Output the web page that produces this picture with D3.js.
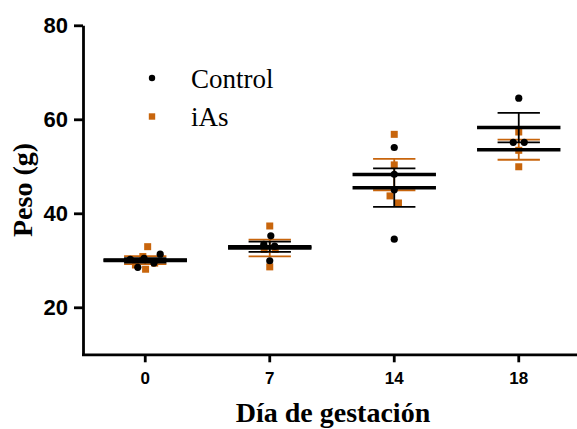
<!DOCTYPE html>
<html>
<head>
<meta charset="utf-8">
<script src="https://cdn.jsdelivr.net/npm/d3@7"></script>
<style>
  body { margin: 0; background: #fff; }
  .tick text { font-family: "Liberation Sans", Arial, sans-serif; font-weight: bold; fill: #000; }
</style>
</head>
<body>
<svg id="chart" width="577" height="429"></svg>
<script>
// categories and values
var days = ["0", "7", "14", "18"];
var controlValues = [
  [31.3, 30.4, 28.5, 29.4, 30.2],
  [35.2, 29.9, 33.4, 33.0],
  [54.0, 48.3, 45.0, 34.5],
  [64.5, 55.1, 55.1]
];
var iAsValues = [
  [32.9, 28.1, 29.0, 29.4, 30.8],
  [37.3, 28.6, 32.3, 32.3],
  [56.8, 50.3, 43.7, 42.2],
  [57.3, 53.4, 49.9]
];
var yTicks = [20, 40, 60, 80];
var seriesNames = ["Control", "iAs"];

var orange = "#c8650c";
var svg = d3.select("#chart");

var x = d3.scaleBand().domain(days).range([83, 581]).padding(0);
var y = d3.scaleLinear().domain([10, 80]).range([354.3, 25.3]);

// mean and sem per group
function stats(vals) {
  var m = d3.mean(vals);
  var sem = d3.deviation(vals) / Math.sqrt(vals.length);
  return { mean: m, sem: sem };
}

// beeswarm-ish spread so dots don't sit on top of each other
function spread(values, r) {
  var nodes = [];
  values.forEach(function(vals, gi) {
    vals.forEach(function(v) {
      var cx = x(days[gi]) + x.bandwidth() / 2;
      nodes.push({ day: days[gi], value: v, cx: cx, x: cx, y: y(v), fy: y(v) });
    });
  });
  var sim = d3.forceSimulation(nodes)
    .force("x", d3.forceX(function(d) { return d.cx; }).strength(0.12))
    .force("collide", d3.forceCollide(r))
    .stop();
  for (var i = 0; i < 200; i++) sim.tick();
  return nodes;
}

var iAsNodes = spread(iAsValues, 5.5);
var controlNodes = spread(controlValues, 5.5);

// iAs squares (under the lines)
svg.append("g").selectAll("rect")
  .data(iAsNodes)
  .enter().append("rect")
  .attr("x", function(d) { return d.x - 3.5; })
  .attr("y", function(d) { return d.y - 3.5; })
  .attr("width", 7)
  .attr("height", 7)
  .style("fill", orange);

// error bars + mean lines
function drawSummary(values, color) {
  var g = svg.append("g");
  var rows = values.map(function(vals, i) {
    var s = stats(vals);
    return { day: days[i], mean: s.mean, sem: s.sem };
  });
  var half = x.bandwidth() * 0.17;
  var halfMean = x.bandwidth() * 0.335;
  var c = function(d) { return x(d.day) + x.bandwidth() / 2; };

  g.selectAll(".stem").data(rows).enter().append("line")
    .attr("x1", c).attr("x2", c)
    .attr("y1", function(d) { return y(d.mean + d.sem); })
    .attr("y2", function(d) { return y(d.mean - d.sem); })
    .style("stroke", color).style("stroke-width", 1.8);

  [1, -1].forEach(function(sign) {
    g.selectAll(".cap" + sign).data(rows).enter().append("line")
      .attr("x1", function(d) { return c(d) - half; })
      .attr("x2", function(d) { return c(d) + half; })
      .attr("y1", function(d) { return y(d.mean + sign * d.sem); })
      .attr("y2", function(d) { return y(d.mean + sign * d.sem); })
      .style("stroke", color).style("stroke-width", 1.8);
  });

  g.selectAll(".mean").data(rows).enter().append("line")
    .attr("x1", function(d) { return c(d) - halfMean; })
    .attr("x2", function(d) { return c(d) + halfMean; })
    .attr("y1", function(d) { return y(d.mean); })
    .attr("y2", function(d) { return y(d.mean); })
    .style("stroke", "#000").style("stroke-width", 3.5);
}
drawSummary(iAsValues, orange);
drawSummary(controlValues, "#000");

// control dots on top
svg.append("g").selectAll("circle")
  .data(controlNodes)
  .enter().append("circle")
  .attr("cx", function(d) { return d.x; })
  .attr("cy", function(d) { return d.y; })
  .attr("r", 3.6)
  .style("fill", "#000");

// axes
var yAxis = svg.append("g")
  .attr("transform", "translate(83,0)")
  .call(d3.axisLeft(y).tickValues(yTicks).tickSize(9).tickSizeOuter(0).tickPadding(6));
yAxis.selectAll("text").style("font-size", "22px");

var xAxis = svg.append("g")
  .attr("transform", "translate(0,354.3)")
  .call(d3.axisBottom(x).tickSize(8).tickSizeOuter(0).tickPadding(10));
xAxis.selectAll("text").style("font-size", "17px");
xAxis.select(".domain").attr("d", "M82,0.5H600");

svg.selectAll(".domain, .tick line").style("stroke", "#000").style("stroke-width", 2.8);

// titles
svg.append("text")
  .attr("x", 333).attr("y", 422)
  .attr("text-anchor", "middle")
  .style("font-family", "'Liberation Serif', 'Times New Roman', serif")
  .style("font-weight", "bold").style("font-size", "28px")
  .text("Día de gestación");

svg.append("text")
  .attr("transform", "translate(32,190) rotate(-90)")
  .attr("text-anchor", "middle")
  .style("font-family", "'Liberation Serif', 'Times New Roman', serif")
  .style("font-weight", "bold").style("font-size", "28px")
  .text("Peso (g)");

// legend
var legend = svg.append("g").selectAll("g")
  .data(seriesNames)
  .enter().append("g")
  .attr("transform", function(d, i) { return "translate(152," + (78 + i * 38.5) + ")"; });

legend.filter(function(d, i) { return i === 0; }).append("circle")
  .attr("r", 3.2).style("fill", "#000");
legend.filter(function(d, i) { return i === 1; }).append("rect")
  .attr("x", -3.2).attr("y", -3.2).attr("width", 6.4).attr("height", 6.4)
  .style("fill", orange);
legend.append("text")
  .attr("x", 39).attr("y", 9.5)
  .style("font-family", "'Liberation Serif', 'Times New Roman', serif")
  .style("font-size", "27px")
  .text(function(d) { return d; });
</script>
</body>
</html>
